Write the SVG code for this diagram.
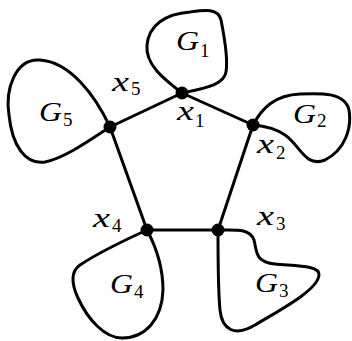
<svg xmlns="http://www.w3.org/2000/svg" width="352" height="341" viewBox="0 0 352 341">
<style>
.ln{fill:none;stroke:#000;stroke-width:3;stroke-linejoin:round;stroke-linecap:round}
.dot{fill:#000}
</style>
<rect width="352" height="341" fill="#fff"/>
<g id="connectors" class="ln">
<path d="M182,93 L253,125 L218,230 L147,230 L110,127 Z"/>
</g>
<g font-family="Liberation Serif, serif" fill="#000">
<g id="G1">
<path class="ln" d="M182,93 C165,80 145,65 147,45 C149,25 165,14 190,12 C205,10 218,8 221,20 C224,35 228,60 226,72 C224,85 205,88 182,93 Z"/>
<text x="176" y="50" font-size="28" font-style="italic" textLength="23" lengthAdjust="spacingAndGlyphs">G</text><text x="200" y="57" font-size="19">1</text>
</g>
<g id="G2">
<path class="ln" d="M253,125 C262,108 275,95 300,94 C320,93 345,92 349,110 C352,128 345,150 325,160 C305,168 300,145 285,135 C275,128 265,126 253,125 Z"/>
<text x="293" y="123" font-size="28" font-style="italic" textLength="23" lengthAdjust="spacingAndGlyphs">G</text><text x="317" y="127" font-size="19">2</text>
</g>
<g id="G3">
<path class="ln" d="M218,230 C235,230 250,228 254,240 C257,252 255,262 275,264 C295,266 320,265 319,275 C318,290 280,310 255,325 C235,337 222,330 220,310 C218,290 218,250 218,230 Z"/>
<text x="255" y="292" font-size="28" font-style="italic" textLength="23" lengthAdjust="spacingAndGlyphs">G</text><text x="279" y="297" font-size="19">3</text>
</g>
<g id="G4">
<path class="ln" d="M147,230 C125,240 95,255 80,265 C70,272 72,285 78,298 C88,320 105,338 122,338 C145,338 162,320 163,290 C163,265 155,245 147,230 Z"/>
<text x="110" y="293" font-size="28" font-style="italic" textLength="23" lengthAdjust="spacingAndGlyphs">G</text><text x="134" y="298" font-size="19">4</text>
</g>
<g id="G5">
<path class="ln" d="M110,127 C95,95 70,62 40,60 C15,58 5,90 9,115 C12,145 25,165 45,162 C65,158 90,140 110,127 Z"/>
<text x="39" y="121" font-size="28" font-style="italic" textLength="23" lengthAdjust="spacingAndGlyphs">G</text><text x="63" y="126" font-size="19">5</text>
</g>
<g id="x1">
<circle class="dot" cx="182" cy="93" r="6.5"/>
<text x="177" y="120" font-size="28" font-style="italic" textLength="17" lengthAdjust="spacingAndGlyphs">x</text><text x="195" y="127" font-size="19">1</text>
</g>
<g id="x2">
<circle class="dot" cx="253" cy="125" r="6.5"/>
<text x="257" y="153" font-size="28" font-style="italic" textLength="17" lengthAdjust="spacingAndGlyphs">x</text><text x="276" y="159" font-size="19">2</text>
</g>
<g id="x3">
<circle class="dot" cx="218" cy="230" r="6.5"/>
<text x="257" y="225" font-size="28" font-style="italic" textLength="17" lengthAdjust="spacingAndGlyphs">x</text><text x="276" y="230" font-size="19">3</text>
</g>
<g id="x4">
<circle class="dot" cx="147" cy="230" r="6.5"/>
<text x="93" y="227" font-size="28" font-style="italic" textLength="17" lengthAdjust="spacingAndGlyphs">x</text><text x="112" y="232" font-size="19">4</text>
</g>
<g id="x5">
<circle class="dot" cx="110" cy="127" r="6.5"/>
<text x="112" y="91" font-size="28" font-style="italic" textLength="17" lengthAdjust="spacingAndGlyphs">x</text><text x="131" y="95" font-size="19">5</text>
</g>
</g>
</svg>
